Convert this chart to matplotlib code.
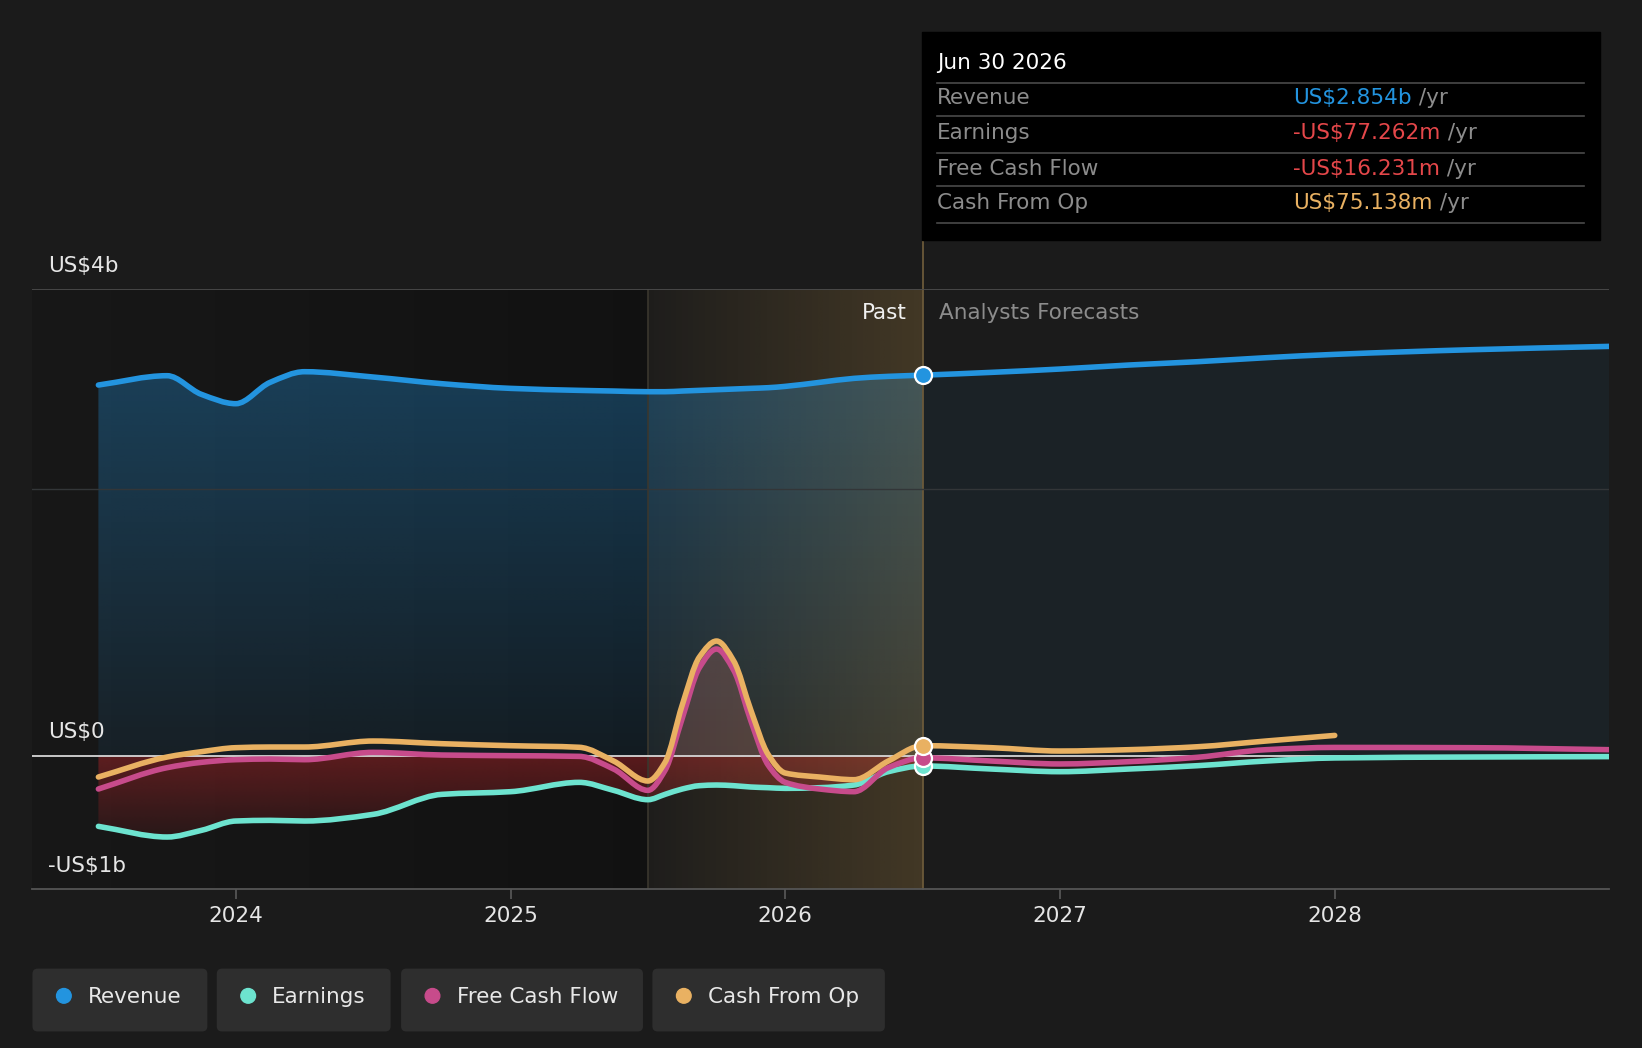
import numpy as np
import matplotlib
matplotlib.use('Agg')
import matplotlib.pyplot as plt
from matplotlib.patches import Rectangle, FancyBboxPatch, Circle, PathPatch
from matplotlib.path import Path
from matplotlib.colors import to_rgb

# Datos (US$ miles de millones)
fechas = [2023.5, 2023.75, 2023.875, 2024.0, 2024.125, 2024.25, 2024.5, 2024.75,
          2025.0, 2025.25, 2025.375, 2025.5, 2025.5625, 2025.625, 2025.6875, 2025.75,
          2025.8125, 2025.875, 2025.9375, 2026.0, 2026.125, 2026.25, 2026.375, 2026.5,
          2026.75, 2027.0, 2027.25, 2027.5, 2027.75, 2028.0, 2028.5, 2029.0]
revenue = [2.78, 2.85, 2.71, 2.64, 2.80, 2.88, 2.84, 2.79,
           2.755, 2.74, 2.735, 2.73, 2.73, 2.735, 2.74, 2.745,
           2.75, 2.755, 2.76, 2.77, 2.80, 2.83, 2.845, 2.854,
           2.875, 2.90, 2.93, 2.955, 2.985, 3.01, 3.045, 3.07]
earnings = [-0.53, -0.61, -0.56, -0.49, -0.485, -0.49, -0.44, -0.29,
            -0.27, -0.20, -0.26, -0.33, -0.29, -0.25, -0.225, -0.22,
            -0.225, -0.235, -0.24, -0.245, -0.24, -0.22, -0.12, -0.077,
            -0.10, -0.12, -0.10, -0.075, -0.04, -0.017, -0.01, -0.007]
fcf = [-0.25, -0.09, -0.05, -0.03, -0.025, -0.03, 0.025, 0.005,
       0.0, -0.005, -0.10, -0.26, -0.11, 0.28, 0.66, 0.80,
       0.64, 0.26, -0.07, -0.20, -0.25, -0.27, -0.09, -0.016,
       -0.04, -0.062, -0.045, -0.012, 0.045, 0.062, 0.06, 0.045]
cfo = [-0.16, -0.01, 0.03, 0.06, 0.065, 0.065, 0.11, 0.09,
       0.075, 0.063, -0.04, -0.19, -0.05, 0.38, 0.74, 0.86,
       0.71, 0.34, 0.01, -0.13, -0.16, -0.18, -0.04, 0.075,
       0.06, 0.035, 0.045, 0.067, 0.11, 0.152, np.nan, np.nan]

anios = [2024, 2025, 2026, 2027, 2028]
y_marcas = [3.5, 0.0, -1.0]
y_textos = ['US$4b', 'US$0', '-US$1b']
hoy = 2026.5
inicio_pronostico = 2025.5

series = ['Revenue', 'Earnings', 'Free Cash Flow', 'Cash From Op']
colores = ['#2394df', '#6de3cf', '#c74b8b', '#e9b162']
tooltip_valores = ['US$2.854b', '-US$77.262m', '-US$16.231m', 'US$75.138m']
tooltip_colores = ['#2394df', '#e5474a', '#e5474a', '#e9b162']

t = np.array(fechas)
rev = np.array(revenue)
ear = np.array(earnings)
fc = np.array(fcf)
co = np.array(cfo)

FS = 15.5
bg = '#1b1b1b'
fig = plt.figure(figsize=(16.42, 10.48), dpi=100, facecolor=bg)
ax = fig.add_axes([0.01977, 0.1517, 0.96043, 0.5725])
ax.set_facecolor(bg)
x0, x1 = 2023.26, 2029.0
y0, y1 = -1.0, 3.5


def curva(x, y):
    # trazo monótono (tipo d3 monotoneX) como curvas de Bezier
    ok = ~np.isnan(y)
    x, y = x[ok], y[ok]
    h = np.diff(x)
    d = np.diff(y) / h
    m = np.zeros(len(x))
    m[0], m[-1] = d[0], d[-1]
    for k in range(1, len(x) - 1):
        if d[k - 1] * d[k] > 0:
            w1 = 2 * h[k] + h[k - 1]
            w2 = h[k] + 2 * h[k - 1]
            m[k] = (w1 + w2) / (w1 / d[k - 1] + w2 / d[k])
    verts = [(x[0], y[0])]
    codes = [Path.MOVETO]
    for k in range(len(x) - 1):
        verts += [(x[k] + h[k] / 3, y[k] + m[k] * h[k] / 3),
                  (x[k + 1] - h[k] / 3, y[k + 1] - m[k + 1] * h[k] / 3),
                  (x[k + 1], y[k + 1])]
        codes += [Path.CURVE4] * 3
    return verts, codes


def area(x, y, base=0.0):
    verts, codes = curva(x, y)
    verts = verts + [(verts[-1][0], base), (verts[0][0], base), verts[0]]
    codes = codes + [Path.LINETO, Path.LINETO, Path.CLOSEPOLY]
    return Path(verts, codes)


def degradado(ax, color, a_ini, a_fin, extent, vertical=True, z=1, clip=None):
    r, g, b = to_rgb(color)
    n = 256
    a = np.linspace(a_ini, a_fin, n)
    img = np.zeros((n, 2, 4)) if vertical else np.zeros((2, n, 4))
    img[..., 0], img[..., 1], img[..., 2] = r, g, b
    img[..., 3] = a[:, None] if vertical else a[None, :]
    im = ax.imshow(img, extent=extent, origin='lower', aspect='auto', zorder=z,
                   interpolation='bilinear')
    if clip is not None:
        im.set_clip_path(clip, transform=ax.transData)
    return im


pasado = t <= hoy
futuro = t >= hoy

# región pasada oscurecida
degradado(ax, '#000000', 0.12, 0.35, [x0, inicio_pronostico, y0, y1], vertical=False, z=0.2)

# relleno de ingresos
degradado(ax, colores[0], 0.08, 0.33, [x0, hoy, 0, 2.9], z=1, clip=area(t[pasado], rev[pasado]))
ax.add_patch(PathPatch(area(t[futuro], rev[futuro]), facecolor=colores[0], alpha=0.06,
                       lw=0, zorder=1))

# relleno negativo
degradado(ax, '#c8282d', 0.1, 0.4, [x0, hoy, -0.62, 0], z=1.1, clip=area(t[pasado], ear[pasado]))
recorte_neg = Rectangle((x0, y0), x1 - x0, -y0, transform=ax.transData)
p = PathPatch(area(t[futuro], ear[futuro]), facecolor='#c8282d', alpha=0.07, lw=0, zorder=1.1)
ax.add_patch(p)
p.set_clip_path(recorte_neg)

# relleno del pico positivo
for vals, c, a in [(co, colores[3], 0.13), (fc, colores[2], 0.12)]:
    p = PathPatch(area(t, vals), facecolor=c, alpha=a, lw=0, zorder=1.2)
    ax.add_patch(p)
    p.set_clip_path(Rectangle((inicio_pronostico, 0), hoy - inicio_pronostico, y1,
                              transform=ax.transData))

# franja dorada
degradado(ax, '#d9a64d', 0.02, 0.21, [inicio_pronostico, hoy, y0, y1], vertical=False, z=2)
ax.axvline(inicio_pronostico, color='#3a372e', lw=1.2, zorder=2.1)
ax.plot([hoy, hoy], [y0, 3.86], color='#6b5a3a', lw=1.3, clip_on=False, zorder=2.1)

# líneas de referencia
ax.axhline(3.5, color='#4b4b4b', lw=1.3, zorder=2.2)
ax.axhline(2.0, color='#333638', lw=1.0, zorder=2.2)
ax.axhline(0, color='#d6d6d6', lw=1.3, zorder=2.3)

# series
for vals, c, z in [(ear, colores[1], 3), (fc, colores[2], 3.1), (co, colores[3], 3.2),
                   (rev, colores[0], 3.3)]:
    v, cd = curva(t, vals)
    ax.add_patch(PathPatch(Path(v, cd), fill=False, edgecolor=c, lw=4, capstyle='round',
                           joinstyle='round', zorder=z))

i = list(fechas).index(hoy)
for vals, c, z in [(ear, colores[1], 4), (fc, colores[2], 4.1), (co, colores[3], 4.2),
                   (rev, colores[0], 4.3)]:
    ax.scatter([hoy], [vals[i]], s=150, color=c, edgecolor='white', linewidth=1.6, zorder=z)

ax.set_xlim(x0, x1)
ax.set_ylim(y0, y1)
for s in ['top', 'right', 'left']:
    ax.spines[s].set_visible(False)
ax.spines['bottom'].set_color('#555555')
ax.spines['bottom'].set_linewidth(1.3)
ax.set_yticks([])
ax.set_xticks(anios)
ax.set_xticklabels([str(a) for a in anios])
ax.tick_params(axis='x', colors='#555555', length=7, width=1.3, pad=5, labelsize=FS,
               labelcolor='#e6e6e6')

for v, txt in zip(y_marcas, y_textos):
    ax.annotate(txt, xy=(0, v), xycoords=('axes fraction', 'data'), xytext=(15.5, 23.5),
                textcoords='offset pixels', va='center', ha='left', fontsize=FS,
                color='#e6e6e6', zorder=5)

ax.annotate('Past', xy=(hoy, 3.5), xytext=(-16, -24), textcoords='offset pixels',
            ha='right', va='center', fontsize=FS, color='#f0f0f0', zorder=5)
ax.annotate('Analysts Forecasts', xy=(hoy, 3.5), xytext=(16, -24), textcoords='offset pixels',
            ha='left', va='center', fontsize=FS, color='#8c8c8c', zorder=5)

# capa superior en píxeles para tooltip y leyenda
ov = fig.add_axes([0, 0, 1, 1], facecolor='none')
ov.set_xlim(0, 1568)
ov.set_ylim(1000.8, 0)
ov.axis('off')

ov.add_patch(Rectangle((880, 31), 648, 198, color='black', zorder=1))
ov.text(895, 60, 'Jun 30 2026', color='white', fontsize=FS, va='center', zorder=2)
for ys in [79, 111, 146, 178, 213]:
    ov.plot([895, 1513], [ys, ys], color='#4a4a4a', lw=1.2, zorder=2)
for nombre, val, c, yy in zip(series, tooltip_valores, tooltip_colores, [94, 127, 161, 194]):
    ov.text(895, yy, nombre, color='#8c8c8c', fontsize=FS, va='center', zorder=2)
    tv = ov.text(1235, yy, val, color=c, fontsize=FS, va='center', zorder=2)
    ov.annotate(' /yr', xy=(1, 0.5), xycoords=tv, va='center', ha='left', color='#8c8c8c',
                fontsize=FS, zorder=2)

cajas = [(31, 198), (207, 373), (383, 614), (623, 845)]
for (a, b), nombre, c in zip(cajas, series, colores):
    ov.add_patch(FancyBboxPatch((a, 925), b - a, 60, boxstyle='round,pad=0,rounding_size=5',
                                facecolor='#2e2e2e', edgecolor='none', zorder=1))
    ov.add_patch(Circle((a + 30, 951), 7, color=c, zorder=2))
    ov.text(a + 53, 952, nombre, color='#e8e8e8', fontsize=FS, va='center', zorder=2)

fig.savefig('out.png', dpi=100, facecolor=bg)
